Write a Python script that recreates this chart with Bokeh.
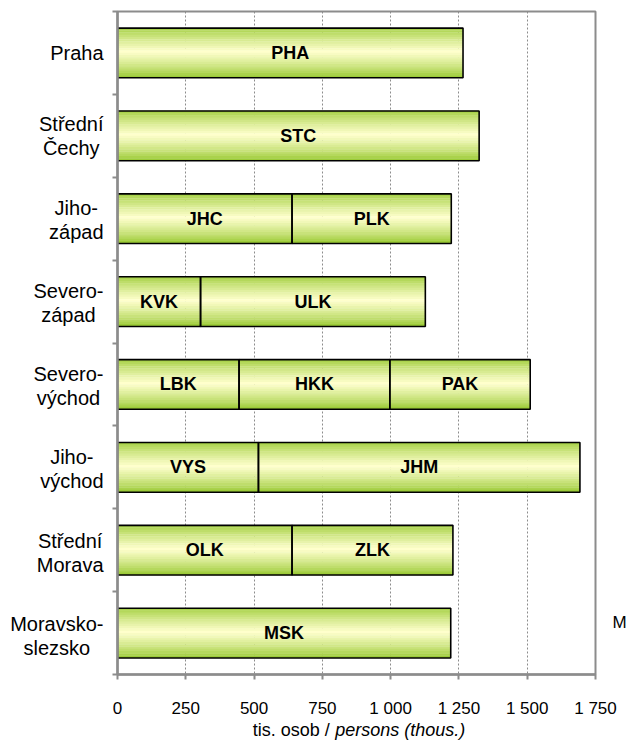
import numpy as np
from bokeh.plotting import figure
from bokeh.models import Range1d, FixedTicker, LinearAxis
from bokeh.layouts import column, row
from bokeh.core.properties import value
from bokeh.embed import file_html
from bokeh.resources import INLINE

# ---- data ----
regions = ["Praha", "Střední\nČechy", "Jiho-\nzápad", "Severo-\nzápad",
           "Severo-\nvýchod", "Jiho-\nvýchod", "Střední\nMorava", "Moravsko-\nslezsko"]
kraj_codes = ["PHA", "STC", "JHC", "PLK", "KVK", "ULK", "LBK", "HKK", "PAK",
              "VYS", "JHM", "OLK", "ZLK", "MSK"]
kraj_region = [0, 1, 2, 2, 3, 3, 4, 4, 4, 5, 5, 6, 6, 7]
kraj_pop = [1265, 1324, 639, 583, 304, 823, 445, 552, 514, 516, 1177, 639, 589, 1220]
x_ticks = [0, 250, 500, 750, 1000, 1250, 1500, 1750]
x_tick_labels = ["0", "250", "500", "750", "1 000", "1 250", "1 500", "1 750"]
x_title_cz = ["tis. osob /"]
x_title_en = ["persons (thous.)"]
cut_label = "M"
cut_label_pos = 7.87

FONT = "Liberation Sans"
GRAY = "#8c8c8c"
LAB_W = 106          # width of the category-label strip (px)
LAB_RIGHT = 103      # right edge of the label blocks (px)
LAB_SIZE = 20        # px

# approximate advance widths (1/1000 em) used only to centre wrapped label lines
ADV = {"P": 667, "r": 333, "a": 556, "h": 556, "S": 667, "t": 278, "ř": 333, "e": 556,
       "d": 556, "n": 556, "í": 278, "Č": 722, "c": 500, "y": 500, "J": 500, "i": 222,
       "o": 556, "-": 333, "z": 500, "á": 556, "p": 556, "v": 500, "ý": 500, "M": 833,
       "l": 222, "s": 500, "k": 500}


def block_width(s):
    return max(sum(ADV.get(ch, 556) for ch in line) for line in s.split("\n")) * LAB_SIZE / 1000


# ---- derived positions ----
lefts, rights, ycs = [], [], []
cum = {}
for r, v in zip(kraj_region, kraj_pop):
    l = cum.get(r, 0)
    lefts.append(l)
    rights.append(l + v)
    cum[r] = l + v
    ycs.append(r + 1)

p = figure(width=629 - LAB_W, height=720, x_range=Range1d(0, 1750), y_range=Range1d(8.5, 0.5),
           output_backend="svg", toolbar_location=None,
           min_border_left=117 - LAB_W, min_border_right=30, min_border_top=11, min_border_bottom=43)
p.background_fill_color = "white"
p.border_fill_color = "white"
p.outline_line_color = GRAY
p.outline_line_width = 2

# gradient strips
BAR_H = 0.6
N = 22
green = np.array([146, 198, 40])
pale = np.array([255, 255, 205])
sy, sl, sr, sc = [], [], [], []
for l, r, yc in zip(lefts, rights, ycs):
    for k in range(N):
        tt = (k + 0.5) / N
        w = max(0.0, 1 - abs(tt - 0.48) / 0.52) ** 0.75
        c = green + (pale - green) * w
        sy.append(yc - BAR_H / 2 + tt * BAR_H)
        sl.append(l)
        sr.append(r)
        sc.append("#%02x%02x%02x" % tuple(int(round(x)) for x in c))
p.hbar(y=sy, left=sl, right=sr, height=BAR_H / N * 1.15, fill_color=sc, line_color=None)
p.hbar(y=ycs, left=lefts, right=rights, height=BAR_H, fill_color=None,
       line_color="black", line_width=1.6)

mids = [(l + r) / 2 for l, r in zip(lefts, rights)]
p.text(x=mids, y=ycs, text=kraj_codes, text_font=value(FONT), text_font_style="bold",
       text_font_size="18px", text_align="center", text_baseline="middle", text_color="black")

# x axis
p.xaxis.ticker = FixedTicker(ticks=x_ticks)
p.xaxis.major_label_overrides = {t: s for t, s in zip(x_ticks, x_tick_labels)}
p.xaxis.major_label_text_font = FONT
p.xaxis.major_label_text_font_size = "17px"
p.xaxis.major_label_text_color = "black"
p.xaxis.major_label_standoff = 19
p.xaxis.major_tick_out = 5
p.xaxis.major_tick_in = 0
p.xaxis.minor_tick_line_color = None
p.xaxis.axis_line_color = GRAY
p.xaxis.axis_line_width = 2.5
p.xaxis.major_tick_line_color = GRAY
p.xaxis.major_tick_line_width = 2

# y axis: only the separator ticks between categories
centers = list(range(1, len(regions) + 1))
bounds = [i + 0.5 for i in range(len(regions) + 1)]
p.yaxis.ticker = FixedTicker(ticks=[], minor_ticks=bounds)
p.yaxis.major_label_standoff = 0
p.yaxis.major_tick_out = 0
p.yaxis.major_tick_in = 0
p.yaxis.minor_tick_out = 5
p.yaxis.minor_tick_in = 0
p.yaxis.minor_tick_line_color = GRAY
p.yaxis.minor_tick_line_width = 2
p.yaxis.axis_line_color = GRAY
p.yaxis.axis_line_width = 2.5

# right "axis" carrying the cut-off label
ra = LinearAxis(ticker=FixedTicker(ticks=[cut_label_pos]),
                major_label_overrides={cut_label_pos: cut_label})
ra.axis_line_color = None
ra.major_tick_line_color = None
ra.minor_tick_line_color = None
ra.major_tick_out = 0
ra.major_label_text_font = FONT
ra.major_label_text_font_size = "17px"
ra.major_label_text_color = "black"
ra.major_label_standoff = 17
p.add_layout(ra, "right")

p.xgrid.ticker = FixedTicker(ticks=x_ticks)
p.xgrid.grid_line_color = GRAY
p.xgrid.grid_line_dash = "2 2"
p.xgrid.grid_line_width = 1
p.ygrid.grid_line_color = None

# category labels strip (wrapped lines centred, blocks right-aligned)
lab = figure(width=LAB_W, height=720, x_range=Range1d(0, LAB_W), y_range=p.y_range,
             output_backend="svg", toolbar_location=None, x_axis_type=None, y_axis_type=None,
             min_border_left=0, min_border_right=0, min_border_top=11, min_border_bottom=43)
lab.outline_line_color = None
lab.grid.grid_line_color = None
lab.background_fill_color = "white"
lab.border_fill_color = "white"
lab_x = [LAB_RIGHT - block_width(s) / 2 for s in regions]
lab.text(x=lab_x, y=centers, text=regions, text_font=value(FONT),
         text_font_size=f"{LAB_SIZE}px", text_align="center", text_baseline="middle",
         text_line_height=1.1, text_color="black")

# axis title strip (mixed normal / italic), sharing the x range
t = figure(width=629 - LAB_W, height=23, x_range=p.x_range, y_range=Range1d(0, 1),
           output_backend="svg", toolbar_location=None, x_axis_type=None, y_axis_type=None,
           min_border_left=117 - LAB_W, min_border_right=30, min_border_top=0, min_border_bottom=0)
t.outline_line_color = None
t.grid.grid_line_color = None
t.background_fill_color = "white"
t.border_fill_color = "white"
t.text(x=[777], y=[0.6], text=x_title_cz, text_font=value(FONT), text_font_size="18px",
       text_align="right", text_baseline="middle", text_color="black")
t.text(x=[797], y=[0.6], text=x_title_en, text_font=value(FONT), text_font_size="18px",
       text_font_style="italic", text_align="left", text_baseline="middle", text_color="black")

layout = row(lab, column(p, t, spacing=0), spacing=0)
open("out.html", "w").write(file_html(layout, INLINE))
